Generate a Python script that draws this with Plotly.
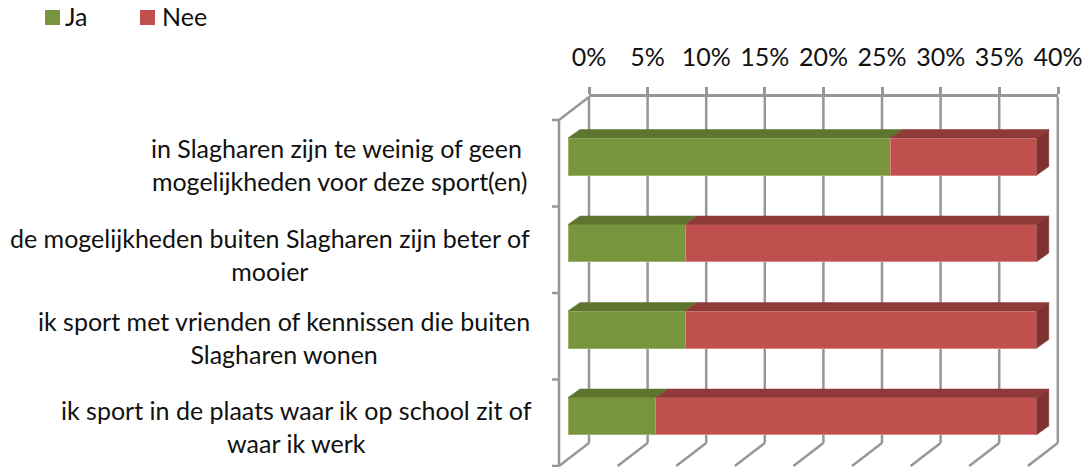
import plotly.graph_objects as go

# ---- data ----
categories = [
    "in Slagharen zijn te weinig of geen <br>mogelijkheden voor deze sport(en)",
    "de mogelijkheden buiten Slagharen zijn beter of<br>mooier",
    "ik sport met vrienden of kennissen die buiten<br>Slagharen wonen",
    "ik sport in de plaats waar ik op school zit of<br>waar ik werk",
]
series_names = ["Ja", "Nee"]
ja = [27.5, 10, 10, 7.5]
nee = [12.5, 30, 30, 32.5]
tick_values = [0, 5, 10, 15, 20, 25, 30, 35, 40]

# ---- style / geometry (pixels of the 1086x467 canvas) ----
W, H = 1086, 467
FONT = "Lato"
FS = 25
TXT = "#111111"
GREEN, RED = "#78943C", "#C0504D"
GREEN_TOP, RED_TOP = "#5E7530", "#8F3A38"
RED_SIDE = "#7F3331"
GREEN_EDGE, RED_EDGE = "#9CB56A", "#D98583"
GRID = "#979797"
PX_PER_PCT = 11.72
PX_PER_ROW = 86.5
BAR_X0, BAR_Y0 = 568, 156.5      # pixel of x=0 / first row centre in the bar plane


def xd(px):
    return (px - BAR_X0) / PX_PER_PCT


def yd(px):
    return (px - BAR_Y0) / PX_PER_ROW


def ydom(top, bottom):
    return [1 - bottom / H, 1 - top / H]


rows = list(range(len(categories)))
BAR_W = 37 / PX_PER_ROW
DX = 12 / PX_PER_PCT
DY = 8.5 / PX_PER_ROW

fig = go.Figure()

# back wall axes: real tick labels and top line
fig.add_trace(go.Scatter(x=[0, 40], y=[0, 1], mode="none", showlegend=False,
                         hoverinfo="skip", xaxis="x", yaxis="y"))

# stacked bars in the bar plane
fig.add_trace(go.Bar(name=series_names[0], y=rows, x=ja, orientation="h", width=BAR_W,
                     xaxis="x2", yaxis="y2",
                     marker=dict(color=GREEN, line=dict(color=GREEN_EDGE, width=1))))
fig.add_trace(go.Bar(name=series_names[1], y=rows, x=nee, orientation="h", width=BAR_W,
                     xaxis="x2", yaxis="y2",
                     marker=dict(color=RED, line=dict(color=RED_EDGE, width=1))))


def poly(xs, ys, color):
    fig.add_trace(go.Scatter(x=xs, y=ys, mode="lines", fill="toself", fillcolor=color,
                             line=dict(color=color, width=0.5), showlegend=False,
                             hoverinfo="skip", xaxis="x2", yaxis="y2"))


# depth faces, derived from the values
for r, a, b in zip(rows, ja, nee):
    top = r - BAR_W / 2
    bot = r + BAR_W / 2
    total = a + b
    poly([0, a, a + DX, DX, 0], [top, top, top - DY, top - DY, top], GREEN_TOP)
    poly([a, total, total + DX, a + DX, a], [top, top, top - DY, top - DY, top], RED_TOP)
    poly([total, total + DX, total + DX, total, total],
         [top, top - DY, bot - DY, bot, top], RED_SIDE)

# frame: back gridlines, floor diagonals, side wall, category ticks
shapes = []


def frame_line(x0, y0, x1, y1):
    shapes.append(dict(type="line", layer="below", xref="x2", yref="y2",
                       x0=xd(x0), y0=yd(y0), x1=xd(x1), y1=yd(y1),
                       line=dict(color=GRID, width=2.5)))


for t in tick_values:
    back_x = 589 + t * PX_PER_PCT
    frame_line(back_x, 97, back_x, 443)
    frame_line(back_x, 443, back_x - 30, 466)
frame_line(589, 97, 559, 120)
frame_line(559, 120, 559, 466)
for i in range(len(categories) + 1):
    py = 120 + i * PX_PER_ROW
    frame_line(552, py, 559, py)

# legend keys
for name, color, x0 in zip(series_names, (GREEN, RED), (45, 140)):
    shapes.append(dict(type="rect", xref="paper", yref="paper", x0=x0 / W, x1=(x0 + 15) / W,
                       y0=1 - 25 / H, y1=1 - 10 / H, fillcolor=color, line=dict(width=0)))

annotations = [dict(text=name, x=px / W, xref="paper", xanchor="left", y=1 - 16 / H, yref="paper",
                    yanchor="middle", showarrow=False, font=dict(family=FONT, size=FS, color=TXT))
               for name, px in zip(series_names, (63, 160))]

# category labels
LABEL_X = [339, 269.5, 284, 296]
LABEL_Y = [164.5, 254, 337, 426.5]
for text, cx, cy in zip(categories, LABEL_X, LABEL_Y):
    annotations.append(dict(text=text, x=cx / W, xref="paper", xanchor="center", align="center",
                            y=yd(cy), yref="y2", yanchor="middle",
                            showarrow=False, font=dict(family=FONT, size=FS, color=TXT)))

fig.update_layout(
    width=W, height=H, margin=dict(l=0, r=0, t=0, b=0, autoexpand=False),
    paper_bgcolor="white", plot_bgcolor="rgba(0,0,0,0)",
    barmode="stack", showlegend=False, annotations=annotations, shapes=shapes,
    font=dict(family=FONT, size=FS, color=TXT),
    xaxis=dict(domain=[589 / W, 1058 / W], range=[0, 40], side="top", anchor="y",
               tickvals=tick_values, ticktext=[f"{t}%" for t in tick_values],
               ticks="outside", ticklen=7, tickwidth=2.5, tickcolor=GRID, showgrid=False,
               showline=True, linecolor=GRID, linewidth=2.5, zeroline=False,
               ticklabelstandoff=11, tickfont=dict(family=FONT, size=FS, color=TXT)),
    yaxis=dict(domain=ydom(97, 443), range=[0, 1], anchor="x", showgrid=False, zeroline=False,
               showticklabels=False, ticks=""),
    xaxis2=dict(domain=[545 / W, 1], range=[xd(545), xd(W)], anchor="y2", visible=False),
    yaxis2=dict(domain=ydom(85, H), range=[yd(H), yd(85)], anchor="x2", visible=False),
)

fig.write_html("out.html", config={"displayModeBar": False},
               post_script="document.body.style.margin='0';")
